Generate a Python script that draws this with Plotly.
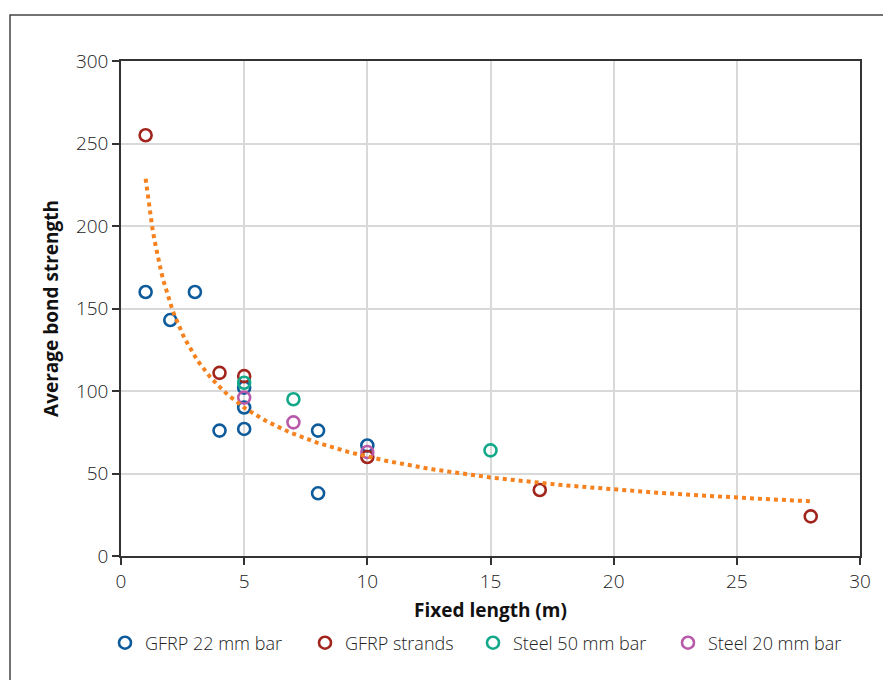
import numpy as np
import plotly.graph_objects as go

# Data
gfrp22_x = [1, 2, 3, 4, 5, 5, 5, 8, 8, 10]
gfrp22_y = [160, 143, 160, 76, 77, 90, 102, 76, 38, 67]

strands_x = [1, 4, 5, 10, 17, 28]
strands_y = [255, 111, 109, 60, 40, 24]

steel50_x = [5, 7, 15]
steel50_y = [105, 95, 64]

steel20_x = [5, 7, 10]
steel20_y = [96, 81, 63]

series_names = ["GFRP 22 mm bar", "GFRP strands", "Steel 50 mm bar", "Steel 20 mm bar"]
series_colors = ["#0d5b9b", "#a1251c", "#14a88a", "#b85aa9"]
x_ticks = [0, 5, 10, 15, 20, 25, 30]
y_ticks = [0, 50, 100, 150, 200, 250, 300]

all_series = [(gfrp22_x, gfrp22_y), (strands_x, strands_y),
              (steel50_x, steel50_y), (steel20_x, steel20_y)]

# Power trendline fitted to all points (as the spreadsheet trendline)
ax = np.concatenate([np.array(s[0], float) for s in all_series])
ay = np.concatenate([np.array(s[1], float) for s in all_series])
b, lna = np.polyfit(np.log(ax), np.log(ay), 1)
tx = np.linspace(ax.min(), ax.max(), 300)
ty = np.exp(lna) * tx ** b

FONT = "Open Sans"
PL, PT, PW, PH = 121, 61, 739, 495  # plot area on screen


def px_x(p):
    return (p - PL) / PW


def px_y(p):
    return 1 - (p - PT) / PH


legend_keys = ["legend", "legend2", "legend3", "legend4"]
legend_marker_px = [125, 325, 493, 688]

fig = go.Figure()
for (xs, ys), name, col, lk in zip(all_series, series_names, series_colors, legend_keys):
    fig.add_trace(go.Scatter(
        x=xs, y=ys, mode="markers", name=name, legend=lk,
        marker=dict(symbol="circle-open", size=12, color=col, line=dict(width=2.6, color=col)),
    ))
fig.add_trace(go.Scatter(
    x=tx, y=ty, mode="lines", showlegend=False, hoverinfo="skip",
    line=dict(color="#f5821f", width=4, dash="4px,4px"),
))

axis_common = dict(
    showline=True, mirror=True, linecolor="#333333", linewidth=1.5,
    showgrid=True, gridcolor="#d9d9d9", gridwidth=1.5,
    ticks="outside", ticklen=7, tickwidth=1.5, tickcolor="#333333",
    tickfont=dict(family=FONT, size=19, color="#222222", weight=300),
    zeroline=False,
)

legend_font = dict(family=FONT, size=18, color="#222222", weight=300)
legends = {}
for lk, mx in zip(legend_keys, legend_marker_px):
    legends[lk] = dict(x=px_x(mx - 20), xanchor="left", y=px_y(643), yanchor="middle",
                       font=legend_font, itemwidth=30, bgcolor="rgba(0,0,0,0)")

fig.update_layout(
    width=891, height=680,
    margin=dict(l=113, r=39, t=53, b=132),
    paper_bgcolor="white", plot_bgcolor="white",
    xaxis=dict(range=[0, 30], tickvals=x_ticks, **axis_common,
               title=dict(text="Fixed length (m)", standoff=11,
                          font=dict(family=FONT, size=19, color="#111111", weight=700))),
    yaxis=dict(range=[0, 300], tickvals=y_ticks, **axis_common,
               title=dict(text="Average bond strength", standoff=12,
                          font=dict(family=FONT, size=19, color="#111111", weight=700))),
    showlegend=True,
    **legends,
)

# outer frame (top/left edges visible, extends off page)
fig.add_shape(type="rect", xref="paper", yref="paper",
              x0=px_x(10), x1=px_x(905),
              y0=px_y(700), y1=px_y(15),
              line=dict(color="#444444", width=1.5), layer="below")

fig.write_html("out.html")
